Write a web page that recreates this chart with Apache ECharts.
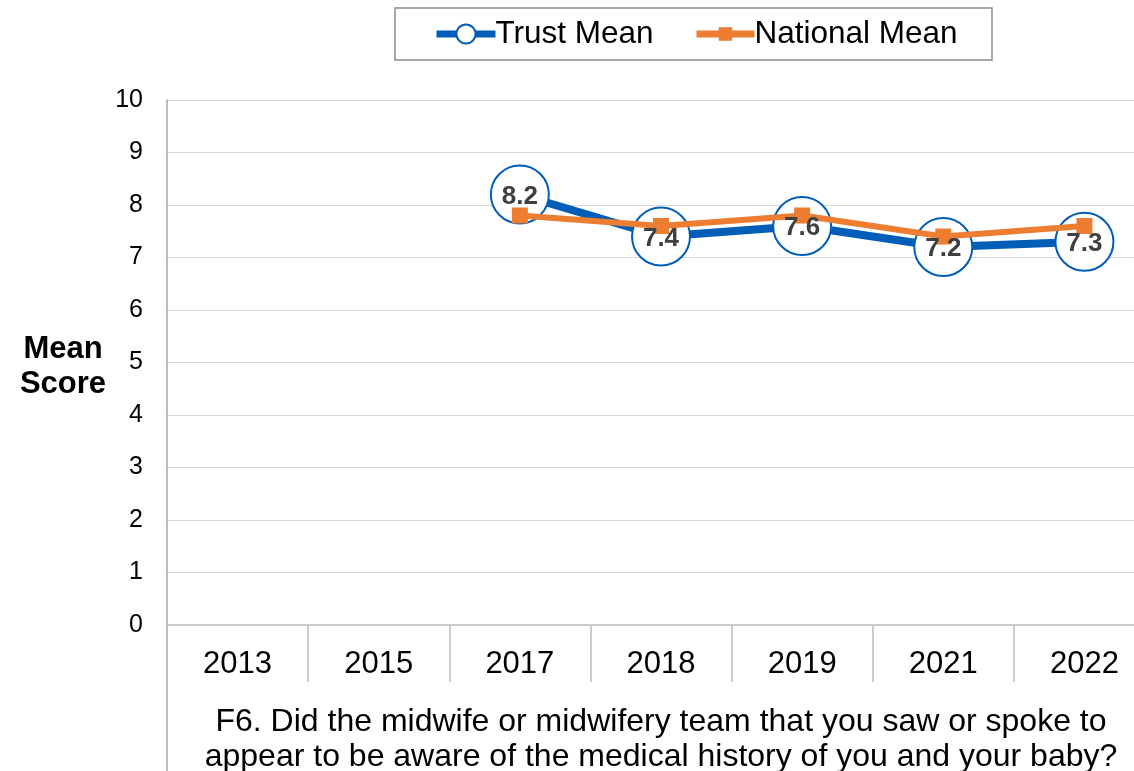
<!DOCTYPE html>
<html>
<head>
<meta charset="utf-8">
<script src="https://cdn.jsdelivr.net/npm/echarts@6/dist/echarts.min.js"></script>
<style>
  html, body { margin: 0; padding: 0; background: #fff; }
  #chart { width: 1134px; height: 771px; }
</style>
</head>
<body>
<div id="chart"></div>
<script>
// Survey years shown along the category axis
const years = ['2013', '2015', '2017', '2018', '2019', '2021', '2022'];
// Mean scores (no data collected for 2013 and 2015)
const trustMean = [null, null, 8.2, 7.4, 7.6, 7.2, 7.3];
const nationalMean = [null, null, 7.8, 7.6, 7.8, 7.4, 7.6];
// Value-axis ticks
const yTicks = [0, 1, 2, 3, 4, 5, 6, 7, 8, 9, 10];

const questionText = 'F6. Did the midwife or midwifery team that you saw or spoke to\nappear to be aware of the medical history of you and your baby?';

const BLUE = '#005EB8';
const ORANGE = '#ED7D31';
const FONT = '"Liberation Sans", Arial, sans-serif';

const legendText = { fontSize: 31.5, color: '#000', fontFamily: FONT, padding: [0, 0, 0, -5] };

const chart = echarts.init(document.getElementById('chart'));

chart.setOption({
  animation: false,
  textStyle: { fontFamily: FONT },
  // two legend entries, each with its own marker size, inside one framed box
  legend: [
    {
      data: [{ name: 'Trust Mean', lineStyle: { width: 7 }, itemStyle: { borderWidth: 2 } }],
      left: 433,
      top: 18,
      padding: 0,
      itemWidth: 59,
      itemHeight: 24,
      textStyle: legendText
    },
    {
      data: [{ name: 'National Mean', lineStyle: { width: 7 } }],
      left: 693,
      top: 18,
      padding: 0,
      itemWidth: 58,
      itemHeight: 17,
      textStyle: legendText
    }
  ],
  grid: { left: 167, top: 100, right: -21, bottom: 146, containLabel: false, outerBoundsMode: 'none' },
  xAxis: {
    type: 'category',
    data: years,
    boundaryGap: true,
    axisLine: { show: true, lineStyle: { color: '#bfbfbf', width: 1.5 } },
    axisTick: { show: true, interval: 0, length: 57, lineStyle: { color: '#bfbfbf', width: 1.5 } },
    axisLabel: { fontSize: 31, color: '#000', margin: 24, fontFamily: FONT, interval: 0 },
    name: questionText,
    nameLocation: 'middle',
    nameGap: 80,
    nameTextStyle: { fontSize: 32, color: '#000', lineHeight: 35, fontFamily: FONT }
  },
  yAxis: {
    type: 'value',
    min: yTicks[0],
    max: yTicks[yTicks.length - 1],
    interval: 1,
    axisLine: { show: true, lineStyle: { color: '#a6a6a6', width: 1.5 } },
    axisTick: { show: false },
    splitLine: { show: true, lineStyle: { color: '#d9d9d9', width: 1.2 } },
    axisLabel: { fontSize: 25, color: '#000', margin: 24, fontFamily: FONT }
  },
  graphic: [
    {
      // legend frame
      type: 'rect',
      shape: { x: 395, y: 8, width: 597, height: 52 },
      style: { fill: 'none', stroke: '#8c8c8c', lineWidth: 1.5 },
      z: 0
    },
    {
      // y-axis line continues down past the category labels
      type: 'line',
      shape: { x1: 167, y1: 625, x2: 167, y2: 771 },
      style: { stroke: '#a6a6a6', lineWidth: 1.5 }
    },
    {
      type: 'text',
      x: 63,
      y: 367,
      style: {
        text: 'Mean\nScore',
        font: 'bold 31px ' + FONT,
        fill: '#000',
        textAlign: 'center',
        textVerticalAlign: 'middle',
        lineHeight: 35
      }
    }
  ],
  series: [
    {
      name: 'Trust Mean',
      type: 'line',
      data: trustMean,
      z: 2,
      symbol: 'circle',
      symbolSize: 58,
      lineStyle: { color: BLUE, width: 8 },
      itemStyle: { color: '#fff', borderColor: BLUE, borderWidth: 2 },
      label: { show: false }
    },
    {
      name: 'National Mean',
      type: 'line',
      data: nationalMean,
      z: 3,
      symbol: 'rect',
      symbolSize: 16,
      lineStyle: { color: ORANGE, width: 6 },
      itemStyle: { color: ORANGE }
    },
    {
      // value labels for the trust scores, kept above both lines
      name: 'Trust Mean labels',
      type: 'line',
      data: trustMean,
      z: 5,
      symbol: 'circle',
      symbolSize: 2,
      lineStyle: { opacity: 0 },
      itemStyle: { color: 'rgba(0,0,0,0)', borderWidth: 0 },
      silent: true,
      label: {
        show: true,
        position: 'inside',
        offset: [0, 2],
        fontSize: 26,
        fontWeight: 'bold',
        color: '#404040',
        fontFamily: FONT,
        formatter: p => p.value.toFixed(1)
      }
    }
  ]
});
</script>
</body>
</html>
